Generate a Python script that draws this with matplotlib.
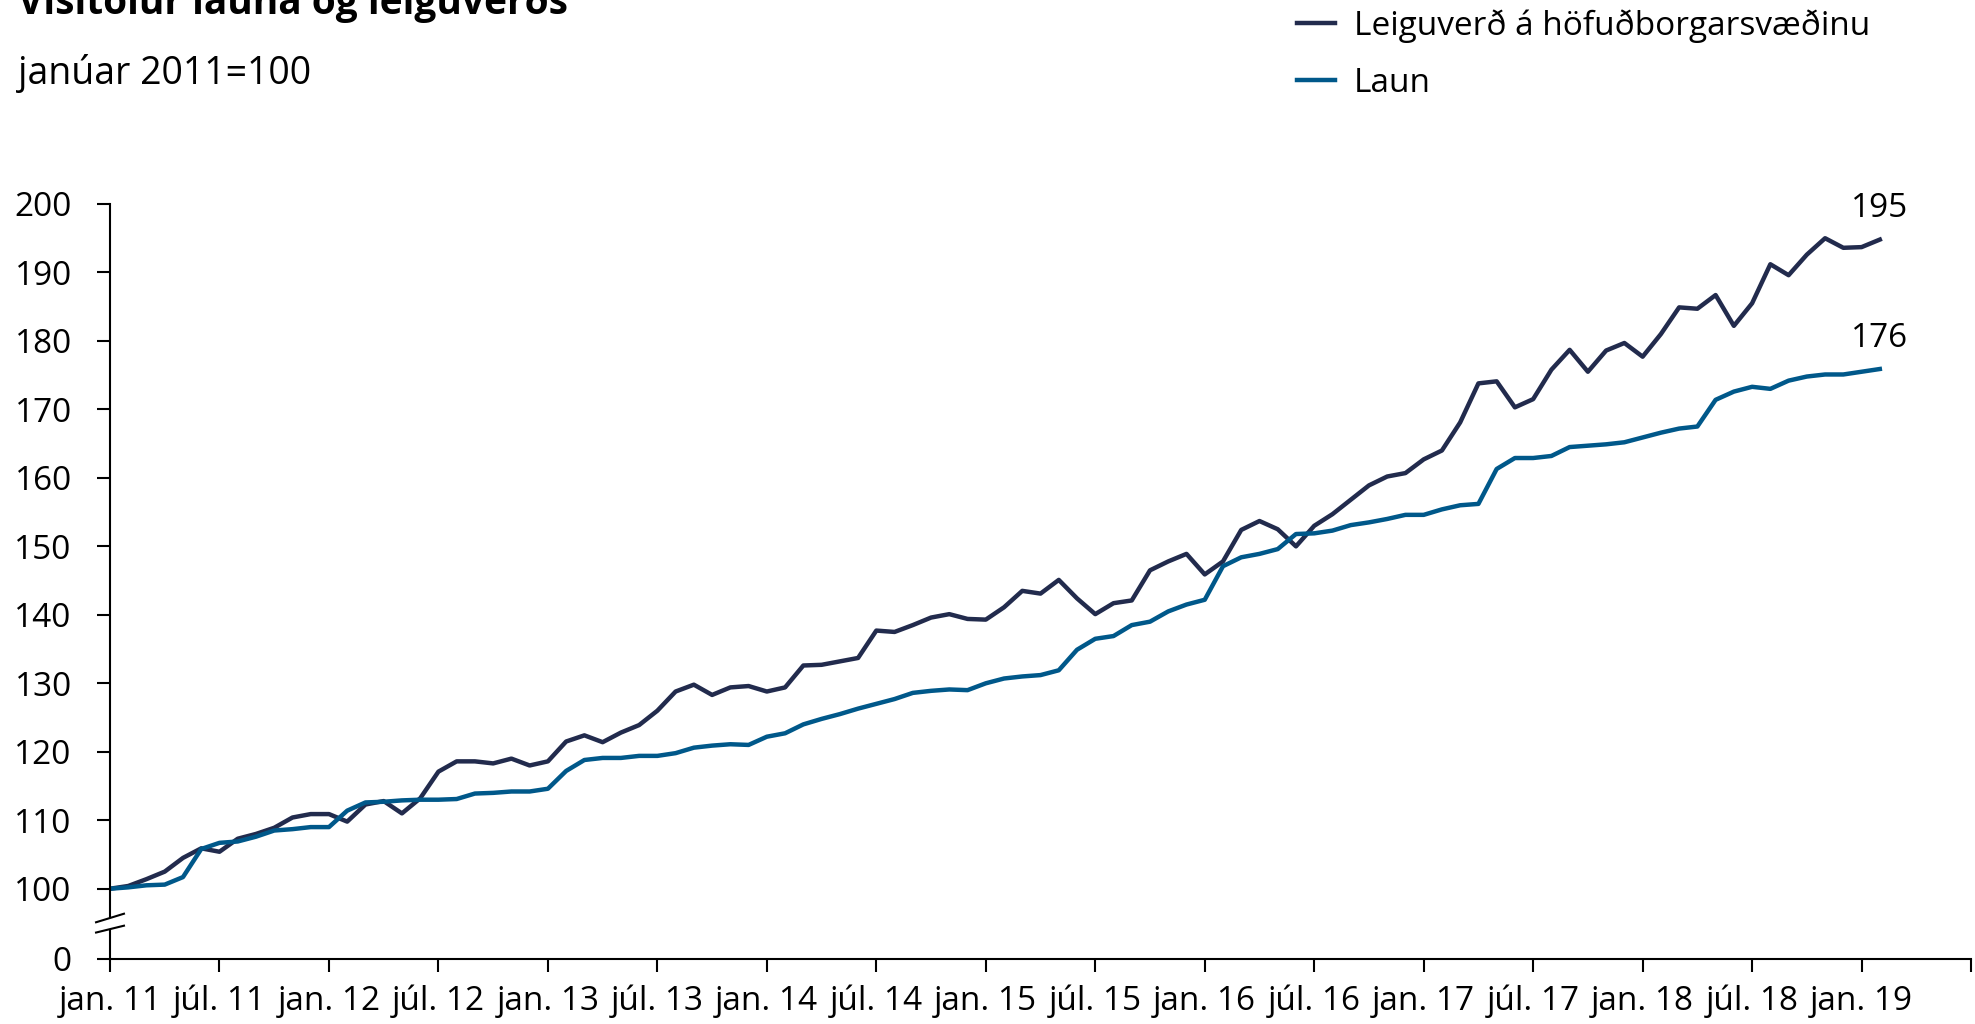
import numpy as np
import matplotlib.pyplot as plt
from matplotlib.transforms import blended_transform_factory
from matplotlib.patches import Polygon

plt.rcParams['font.family'] = ['Open Sans', 'DejaVu Sans']

# monthly index, jan. 2011 = 100 (jan. 2011 - feb. 2019)
rent = [100.0, 100.4, 101.4, 102.5, 104.5, 105.9, 105.4, 107.3, 108.0, 108.9,
        110.4, 110.9, 110.9, 109.8, 112.3, 112.8, 111.0, 113.2, 117.1, 118.6,
        118.6, 118.3, 119.0, 118.0, 118.6, 121.5, 122.4, 121.4, 122.8, 123.9,
        126.0, 128.8, 129.8, 128.3, 129.4, 129.6, 128.8, 129.4, 132.6, 132.7,
        133.2, 133.7, 137.7, 137.5, 138.5, 139.6, 140.1, 139.4, 139.3, 141.1,
        143.5, 143.1, 145.1, 142.4, 140.1, 141.7, 142.1, 146.5, 147.8, 148.9,
        145.9, 147.8, 152.4, 153.7, 152.5, 150.0, 153.0, 154.7, 156.8, 158.9,
        160.2, 160.7, 162.7, 164.0, 168.1, 173.8, 174.1, 170.3, 171.5, 175.8,
        178.7, 175.5, 178.6, 179.7, 177.7, 181.0, 184.9, 184.7, 186.7, 182.2,
        185.5, 191.2, 189.6, 192.6, 195.0, 193.6, 193.7, 194.8]

wages = [100.0, 100.2, 100.5, 100.6, 101.7, 105.8, 106.7, 106.9, 107.6, 108.5,
         108.7, 109.0, 109.0, 111.4, 112.6, 112.7, 112.9, 113.0, 113.0, 113.1,
         113.9, 114.0, 114.2, 114.2, 114.6, 117.2, 118.8, 119.1, 119.1, 119.4,
         119.4, 119.8, 120.6, 120.9, 121.1, 121.0, 122.2, 122.7, 124.0, 124.8,
         125.5, 126.3, 127.0, 127.7, 128.6, 128.9, 129.1, 129.0, 130.0, 130.7,
         131.0, 131.2, 131.9, 134.9, 136.5, 136.9, 138.5, 139.0, 140.5, 141.5,
         142.2, 147.1, 148.4, 148.9, 149.6, 151.8, 151.9, 152.3, 153.1, 153.5,
         154.0, 154.6, 154.6, 155.4, 156.0, 156.2, 161.3, 162.9, 162.9, 163.2,
         164.5, 164.7, 164.9, 165.2, 165.9, 166.6, 167.2, 167.5, 171.4, 172.6,
         173.3, 173.0, 174.2, 174.8, 175.1, 175.1, 175.5, 175.9]

tick_labels = ['jan. 11', 'júl. 11', 'jan. 12', 'júl. 12', 'jan. 13', 'júl. 13',
               'jan. 14', 'júl. 14', 'jan. 15', 'júl. 15', 'jan. 16', 'júl. 16',
               'jan. 17', 'júl. 17', 'jan. 18', 'júl. 18', 'jan. 19', '']
series_labels = ['Leiguverð á höfuðborgarsvæðinu', 'Laun']
end_labels = ['195', '176']
y_labels = ['0', '100', '110', '120', '130', '140', '150', '160', '170', '180', '190', '200']

colors = ['#222b4d', '#00588a']

x = np.arange(len(rent))

fig = plt.figure(figsize=(19.75, 10.24), dpi=100)
ax = fig.add_axes([0.0557, 0.0639, 0.9423, 0.7369])

ax.plot(x, rent, color=colors[0], lw=3.2, label=series_labels[0])
ax.plot(x, wages, color=colors[1], lw=3.2, label=series_labels[1])

ymin = 89.8
ax.set_xlim(0, 102)
ax.set_ylim(ymin, 200)
ax.set_xticks(np.arange(0, 103, 6))
ax.set_xticklabels(tick_labels)
ax.set_yticks([ymin] + list(range(100, 201, 10)))
ax.set_yticklabels(y_labels)

for s in ['top', 'right']:
    ax.spines[s].set_visible(False)
for s in ['left', 'bottom']:
    ax.spines[s].set_linewidth(1.5)
ax.tick_params(axis='y', direction='out', length=9.5, width=1.5, labelsize=24, pad=18)
ax.tick_params(axis='x', direction='out', length=9, width=1.5, labelsize=24, pad=10)

# axis break marks
trans = blended_transform_factory(ax.transAxes, ax.transData)
gap = Polygon([(-0.0075, 93.6), (0.0075, 94.6), (0.0075, 96.35), (-0.0075, 95.1)],
              closed=True, facecolor='white', edgecolor='none', transform=trans,
              clip_on=False, zorder=5)
ax.add_patch(gap)
ax.plot([-0.0075, 0.0075], [95.1, 96.35], color='black', lw=1.5, transform=trans, clip_on=False, zorder=6)
ax.plot([-0.0075, 0.0075], [93.6, 94.6], color='black', lw=1.5, transform=trans, clip_on=False, zorder=6)

# end values
ax.text(x[-1], rent[-1] + 4.5, end_labels[0], fontsize=24, ha='center', va='center')
ax.text(x[-1], wages[-1] + 4.4, end_labels[1], fontsize=24, ha='center', va='center')

fig.legend(loc='upper left', bbox_to_anchor=(1297 / 1975, 1 - 9 / 1024), frameon=False,
           fontsize=24, handlelength=1.15, handletextpad=0.55, labelspacing=0.72,
           borderpad=0, borderaxespad=0)

fig.text(18 / 1975, 1 - 14 / 1024, 'Vísitölur launa og leiguverðs', fontsize=28,
         fontweight='bold', va='baseline', ha='left')
fig.text(18 / 1975, 1 - 84 / 1024, 'janúar 2011=100', fontsize=27, va='baseline', ha='left')

fig.savefig('out.png', dpi=100)
